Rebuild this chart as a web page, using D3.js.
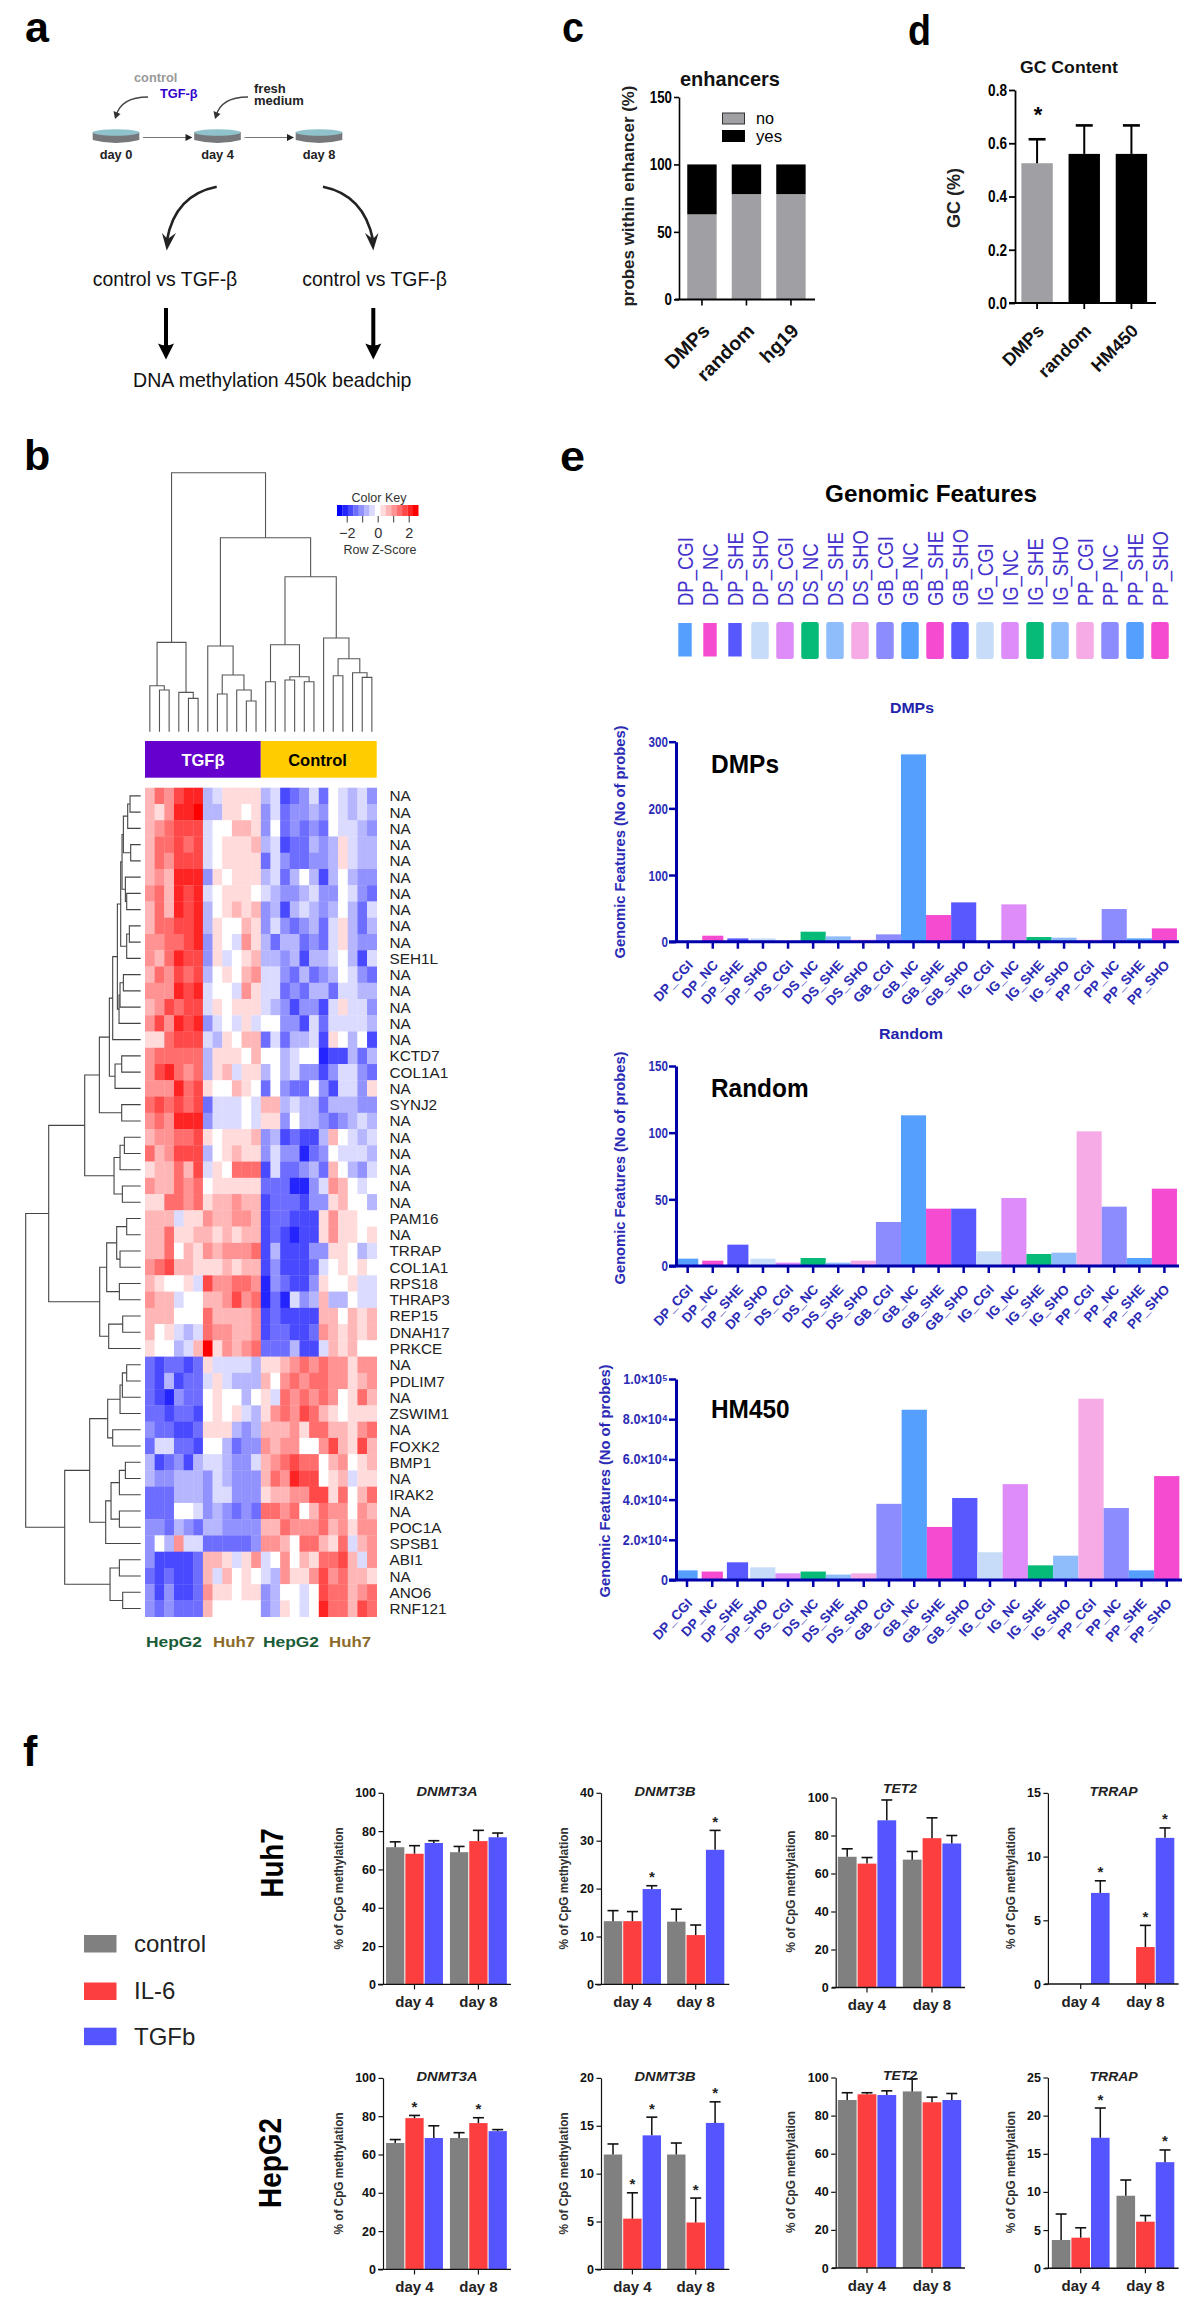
<!DOCTYPE html>
<html>
<head>
<meta charset="utf-8">
<title>Figure</title>
<script src="https://cdnjs.cloudflare.com/ajax/libs/d3/7.8.5/d3.min.js"></script>
<style>
html,body{margin:0;padding:0;background:#fff}
svg{display:block;font-family:"Liberation Sans",Arial,sans-serif}
</style>
</head>
<body>
<svg id="fig" width="1200" height="2321" viewBox="0 0 1200 2321"></svg>
<script>
// ---------- panel a ----------
const dayLabels = ["day 0", "day 4", "day 8"];
// ---------- panel c ----------
const enhancerCategories = ["DMPs", "random", "hg19"];
const enhancerNo = [63, 78, 78];
const enhancerYes = [37, 22, 22];
const enhancerTicks = [0, 50, 100, 150];
// ---------- panel d ----------
const gcCategories = ["DMPs", "random", "HM450"];
const gcValues = [0.525, 0.56, 0.56];
const gcErrorTop = [0.615, 0.667, 0.667];
const gcTicks = [0, 0.2, 0.4, 0.6, 0.8];
// ---------- panel b ----------
const geneLabels = ["NA","NA","NA","NA","NA","NA","NA","NA","NA","NA","SEH1L","NA","NA","NA","NA","NA","KCTD7","COL1A1","NA","SYNJ2","NA","NA","NA","NA","NA","NA","PAM16","NA","TRRAP","COL1A1","RPS18","THRAP3","REP15","DNAH17","PRKCE","NA","PDLIM7","NA","ZSWIM1","NA","FOXK2","BMP1","NA","IRAK2","NA","POC1A","SPSB1","ABI1","NA","ANO6","RNF121"];
// one string per row, one hex digit per column: 0 = deepest blue, 7 = white, e = deepest red
const heatRows = [
"9bacdd568888562346376564",
"98adde558878463445476565",
"9abccc677998473434376654",
"9bbcbc678889562335458655",
"9baccc678888364334458655",
"9a9ddd487888563575257544",
"ab9dcd678887654456447643",
"9b9dcd578989452565457536",
"9bbccd587798464345368535",
"aabbcd4876a8535534368544",
"a9bdcc486789554525567526",
"9bacbc57879a664353457643",
"aaadcd6776a8663435536655",
"9acbcc687888654244268664",
"acadcd467686774426366665",
"88bccc658799363556287572",
"abbbbb588879775677122535",
"acdbab589688575644246643",
"aaadbc877987374337426648",
"bcbcbc366676995655355544",
"abaddd466676884755434565",
"9aabbc878889452322597656",
"b9accc578988464413476665",
"899b9c687bbb263345397546",
"a99bab7888883331146a9767",
"88bbab899a99233324489775",
"999688a99aa92332228a8877",
"99b8899898992321228a8878",
"99b798a9aaab252224488756",
"abc998889899242223678787",
"987786caabba143224877866",
"a9967799acab131645955766",
"999777b9999a232222997989",
"978656baa99a233223a98989",
"877569e8a9ab333522698977",
"323323866665889ababaa8aa",
"32523368655597ababbaa89a",
"32143378775786bababa78b9",
"3323327878658abacb987888",
"433223888545999a8bb998ab",
"366332775344a9aa77ac98c9",
"5234256654469abcbb79a789",
"5445554654449badcc789688",
"333555466444899aacc8b79b",
"333776454343bbab79baa7a9",
"44354355444499baaab9a8aa",
"475a66333334aa97bb98b69a",
"42222399868a67a798bbc96a",
"32322396978765a88acab998",
"424223a88788457767cbb9ab",
"434333977777458767dbb9cb"
];
// dendrograms: [merge height, left child, right child], 0 marks a leaf
const colDendrogram = [777,
  [268, [138, 0, [125, 0, 0]], [118, 0, [100, 0, 0]]],
  [582,
    [257, 0, [170, [113, 0, 0], [125, 0, [92, 0, 0]]]],
    [465,
      [261, [150, 0, 0], [165, [155, 0, 0], [150, 0, 0]]],
      [281, 0, [219, [168, 0, 0], [177, 0, [163, 0, 0]]]]
    ]
  ]
];
const rowDendrogram = [345,
  [276,
    [168,
      [124,
        [94,
          [84,
            [70,
              [60,
                [56,
                  [52, [39, [32, 0, 0], 0], [30, 0, 0]],
                  [46, 0, [42, 0, 0]]
                ],
                [42, [34, 0, 0], 0]
              ],
              [65, [62, [52, 0, 0], 0], 0]
            ],
            0
          ],
          [77, [57, 0, 0], 0]
        ],
        [57, 0, 0]
      ],
      [80, [62, [49, 0, 0], 0], [55, 0, 0]]
    ],
    [123,
      [102, [72, [42, 0, 0], [62, 0, 0]], [64, 0, 0]],
      [96, [54, 0, 0], 0]
    ]
  ],
  [228,
    [153,
      [99, [62, [55, [42, 0, 0], 0], 0], [84, 0, 0]],
      [105, [89, [64, [46, 0, 0], 0], [64, 0, 0]], 0]
    ],
    [92, [64, 0, 0], [54, 0, 0]]
  ]
];
const keyTicks = [-2, -1, 0, 1, 2];
// ---------- panel e ----------
const featureNames = ["DP_CGI","DP_NC","DP_SHE","DP_SHO","DS_CGI","DS_NC","DS_SHE","DS_SHO","GB_CGI","GB_NC","GB_SHE","GB_SHO","IG_CGI","IG_NC","IG_SHE","IG_SHO","PP_CGI","PP_NC","PP_SHE","PP_SHO"];
const featureColors = ["#559fff","#f44bd0","#5858ff","#c6dcf9","#de8cf7","#06bb77","#8fbcfa","#f6abe6","#8c8cff","#559fff","#f44bd0","#5858ff","#c6dcf9","#de8cf7","#06bb77","#8fbcfa","#f6abe6","#8c8cff","#559fff","#f44bd0"];
const dmpCounts = [0,9,5,5,0,15,8,3,11,281,40,59,0,56,7,6,3,49,5,20];
const randomCounts = [5.5,4,16,5.5,2.5,6,2.5,4,33,113,43,43,11,51,9,10,101,44.5,6,58];
const hm450Counts = [4800,4200,8800,6300,3300,4200,2700,3300,37900,84700,26400,40800,13800,47700,7300,12100,90200,35800,4800,51700];
const dmpTicks = [0,100,200,300];
const randomTicks = [0,50,100,150];
const hm450Ticks = [0,20000,40000,60000,80000,100000];
const hm450TickLabels = ["0","2.0×10⁴","4.0×10⁴","6.0×10⁴","8.0×10⁴","1.0×10⁵"];
// ---------- panel f ----------
const treatments = ["control","IL-6","TGFb"];
const treatmentColors = ["#808080","#fd3e3e","#5555ff"];
const days = ["day 4","day 8"];
const huh7Dnmt3a = [71.6,68.2,73.8,69,74.8,76.8];
const huh7Dnmt3aTop = [74.4,72.4,75,72,80.4,79];
const huh7Dnmt3b = [13.2,13.2,19.9,13.1,10.3,28.1];
const huh7Dnmt3bTop = [15.4,15.2,20.6,15.7,12.4,32.15];
const huh7Tet2 = [68.8,65.2,88,67.3,78.6,75.8];
const huh7Tet2Top = [73,68.4,98.7,71.6,89.3,80];
const huh7Trrap = [0,0,7.15,0,2.9,11.47];
const huh7TrrapTop = [0,0,8.1,0,4.6,12.25];
const hepg2Dnmt3a = [66,79,68.6,68.6,76.4,72.2];
const hepg2Dnmt3aTop = [67.8,80.4,75,71.4,79.2,73];
const hepg2Dnmt3b = [12,5.3,14,12,4.9,15.3];
const hepg2Dnmt3bTop = [13.1,8,15.9,13.2,7.45,17.5];
const hepg2Tet2 = [88.2,91.2,90.8,92.7,87,88.2];
const hepg2Tet2Top = [92,92,93,99.3,89.7,91.6];
const hepg2Trrap = [3.7,4,17.1,9.5,6.1,13.9];
const hepg2TrrapTop = [7.1,5.3,21,11.56,6.9,15.5];
const huh7Stars = {DNMT3A:[],DNMT3B:[2,5],TET2:[],TRRAP:[2,4,5]};
const hepg2Stars = {DNMT3A:[1,4],DNMT3B:[1,2,4,5],TET2:[],TRRAP:[2,5]};
const pctTicks = [0,20,40,60,80,100];
const dnmt3bHuhTicks = [0,10,20,30,40];
const dnmt3bHepTicks = [0,5,10,15,20];
const trrapHuhTicks = [0,5,10,15];
const trrapHepTicks = [0,5,10,15,20,25];

// ---------- helpers ----------
const svg = d3.select("#fig");
function fit(sel, len){ sel.attr("textLength", len).attr("lengthAdjust","spacingAndGlyphs"); return sel; }
function squeeze(sel, k){
  sel.each(function(){
    const t = this.getComputedTextLength();
    d3.select(this).attr("textLength", t*k).attr("lengthAdjust","spacingAndGlyphs");
  });
  return sel;
}
function text(g, x, y, s, o={}){
  const t = g.append("text").attr("x",x).attr("y",y).text(s)
    .attr("font-size",o.size||12).attr("fill",o.fill||"#000")
    .attr("font-weight",o.weight||"normal")
    .attr("font-style",o.style||"normal")
    .attr("text-anchor",o.anchor||"start");
  if(o.len) fit(t,o.len);
  return t;
}
function vtext(g, x, y, s, o={}){
  const t = text(g, 0, 0, s, Object.assign({anchor:"middle"},o));
  t.attr("transform",`translate(${x},${y}) rotate(-90)`);
  return t;
}
function styleAxis(sel, color, width, fontSize, weight){
  sel.selectAll(".domain").attr("stroke",color).attr("stroke-width",width);
  sel.selectAll(".tick line").attr("stroke",color).attr("stroke-width",width);
  sel.selectAll(".tick text").attr("fill",color).attr("font-size",fontSize).attr("font-weight",weight).attr("font-family",null);
}

// ---------- panel letters ----------
const L = svg.append("g");
text(L,25,42,"a",{size:43,weight:"bold"});
fit(text(L,562,42,"c",{size:43,weight:"bold"}),22);
fit(text(L,908,45,"d",{size:43,weight:"bold"}),23);
text(L,24,470,"b",{size:43,weight:"bold"});
fit(text(L,560,471,"e",{size:43,weight:"bold"}),25);
text(L,23,1766,"f",{size:43,weight:"bold"});

// ---------- panel a ----------
(function(){
  const g = svg.append("g");
  const x = d3.scalePoint().domain(dayLabels).range([116,319]);
  dayLabels.forEach(d=>{
    const cx = x(d);
    g.append("path").attr("d",`M${cx-23.3},132V140Q${cx},146 ${cx+23.3},140V132Z`).attr("fill","#77787c");
    g.append("ellipse").attr("cx",cx).attr("cy",132.5).attr("rx",23.3).attr("ry",3.2).attr("fill","#8fc2ca");
    text(g,cx,159,d,{size:12.8,weight:"bold",anchor:"middle",fill:"#222"});
  });
  d3.pairs(dayLabels).forEach(([a,b])=>{
    const x1=x(a)+27, x2=x(b)-25;
    g.append("line").attr("x1",x1).attr("x2",x2-4).attr("y1",137.5).attr("y2",137.5).attr("stroke","#777").attr("stroke-width",1);
    g.append("path").attr("d",`M${x2},137.5l-7,-3.5v7Z`).attr("fill","#222");
  });
  text(g,134,82,"control",{size:12.8,weight:"bold",fill:"#999"});
  text(g,160,97.7,"TGF-β",{size:12.8,weight:"bold",fill:"#3300cc"});
  text(g,254,92.7,"fresh",{size:13,weight:"bold",fill:"#222"});
  text(g,254,104.5,"medium",{size:13,weight:"bold",fill:"#222"});
  // small curved arrows
  [[148,97,115,119],[248,97,215,119]].forEach(([a,b,c,e])=>{
    g.append("path").attr("d",`M${a},${b}Q${c+6},${b} ${c+1},${e-3}`).attr("fill","none").attr("stroke","#444").attr("stroke-width",1.3);
    g.append("path").attr("d",`M${c},${e}l-1.5,-8l7,3Z`).attr("fill","#333");
  });
  // big curved arrows
  g.append("path").attr("d","M216.7,186.7Q175,195 167,240").attr("fill","none").attr("stroke","#222").attr("stroke-width",2.6);
  g.append("path").attr("d","M166.7,250.5L162,233L167.5,239L176,233Z").attr("fill","#222");
  g.append("path").attr("d","M323,186.7Q364,195 373,240").attr("fill","none").attr("stroke","#222").attr("stroke-width",2.6);
  g.append("path").attr("d","M373.3,250.5L365,233L373,239L378.5,233Z").attr("fill","#222");
  text(g,92.7,286,"control vs TGF-β",{size:21,len:144.6,fill:"#111"});
  text(g,302.3,286,"control vs TGF-β",{size:21,len:144.6,fill:"#111"});
  [166,373.3].forEach(cx=>{
    g.append("line").attr("x1",cx).attr("x2",cx).attr("y1",308).attr("y2",348).attr("stroke","#000").attr("stroke-width",4);
    g.append("path").attr("d",`M${cx},359.5l-8,-16q8,4 16,0Z`).attr("fill","#000");
  });
  text(g,133,387.3,"DNA methylation 450k beadchip",{size:21,len:278.5,fill:"#111"});
})();

// ---------- panel c ----------
(function(){
  const g = svg.append("g");
  const x = d3.scaleBand().domain(enhancerCategories).range([679.7,813.2]);
  const y = d3.scaleLinear().domain([0,150]).range([299.3,97]);
  const data = enhancerCategories.map((c,i)=>({c,no:enhancerNo[i],yes:enhancerYes[i]}));
  const stacked = d3.stack().keys(["no","yes"])(data);
  const col = {no:"#a0a0a4",yes:"#000"};
  stacked.forEach(s=>{
    g.selectAll(null).data(s).enter().append("rect")
      .attr("x",d=>x(d.data.c)+x.bandwidth()/2-14.7)
      .attr("width",29.4)
      .attr("y",d=>y(d[1])).attr("height",d=>y(d[0])-y(d[1]))
      .attr("fill",col[s.key]);
  });
  const ya = g.append("g").attr("transform","translate(679,0)")
    .call(d3.axisLeft(y).tickValues(enhancerTicks).tickSize(5).tickSizeOuter(0).tickPadding(2));
  styleAxis(ya,"#000",1.6,17,"bold");
  squeeze(ya.selectAll(".tick text"),0.78);
  const xa = g.append("g").attr("transform","translate(0,299.5)")
    .call(d3.axisBottom(x).tickSize(6).tickSizeOuter(0).tickFormat(""));
  xa.select(".domain").remove();
  xa.selectAll(".tick line").attr("stroke","#000").attr("stroke-width",1.6);
  g.append("line").attr("x1",675).attr("x2",815).attr("y1",299.5).attr("y2",299.5).attr("stroke","#000").attr("stroke-width",1.8);
  enhancerCategories.forEach(c=>{
    text(g,0,0,c,{size:19.5,weight:"bold",anchor:"end",fill:"#111"})
      .attr("transform",`translate(${x(c)+x.bandwidth()/2+9},332) rotate(-45)`);
  });
  text(g,730,86,"enhancers",{size:21,weight:"bold",anchor:"middle",len:100,fill:"#111"});
  vtext(g,634,196,"probes within enhancer (%)",{size:16,weight:"bold",len:221,fill:"#222"});
  g.append("rect").attr("x",722.5).attr("y",113).attr("width",22).attr("height",11).attr("fill","#a0a0a4").attr("stroke","#333").attr("stroke-width",1);
  g.append("rect").attr("x",722).attr("y",130).attr("width",23).attr("height",12).attr("fill","#000");
  fit(text(g,756,124,"no",{size:16}),18);
  fit(text(g,756,141.5,"yes",{size:16}),26);
})();

// ---------- panel d ----------
(function(){
  const g = svg.append("g");
  const x = d3.scaleBand().domain(gcCategories).range([1013.5,1155]);
  const y = d3.scaleLinear().domain([0,0.8]).range([303,90]);
  const fills = ["#a0a0a4","#000","#000"];
  gcCategories.forEach((c,i)=>{
    const cx = x(c)+x.bandwidth()/2;
    g.append("rect").attr("x",cx-15.7).attr("width",31.4).attr("y",y(gcValues[i])).attr("height",y(0)-y(gcValues[i])).attr("fill",fills[i]);
    g.append("line").attr("x1",cx).attr("x2",cx).attr("y1",y(gcValues[i])).attr("y2",y(gcErrorTop[i])).attr("stroke","#000").attr("stroke-width",2);
    g.append("line").attr("x1",cx-8.5).attr("x2",cx+8.5).attr("y1",y(gcErrorTop[i])).attr("y2",y(gcErrorTop[i])).attr("stroke","#000").attr("stroke-width",2.6);
  });
  const ya = g.append("g").attr("transform","translate(1015,0)")
    .call(d3.axisLeft(y).tickValues(gcTicks).tickFormat(d3.format(".1f")).tickSize(6).tickSizeOuter(0).tickPadding(2));
  styleAxis(ya,"#000",1.8,17,"bold");
  squeeze(ya.selectAll(".tick text"),0.8);
  const xa = g.append("g").attr("transform","translate(0,303)")
    .call(d3.axisBottom(x).tickSize(6).tickSizeOuter(0).tickFormat(""));
  xa.select(".domain").remove();
  xa.selectAll(".tick line").attr("stroke","#000").attr("stroke-width",1.8);
  g.append("line").attr("x1",1009).attr("x2",1156).attr("y1",303).attr("y2",303).attr("stroke","#000").attr("stroke-width",1.8);
  gcCategories.forEach(c=>{
    text(g,0,0,c,{size:18,weight:"bold",anchor:"end",fill:"#111"})
      .attr("transform",`translate(${x(c)+x.bandwidth()/2+8},332) rotate(-45)`);
  });
  text(g,1038,122,"*",{size:22,weight:"bold",anchor:"middle"});
  text(g,1069,73,"GC Content",{size:17,weight:"bold",anchor:"middle",len:98,fill:"#111"});
  vtext(g,960,198,"GC (%)",{size:18,weight:"bold",len:60,fill:"#222"});
})();

// ---------- panel b ----------
(function(){
  const g = svg.append("g");
  const nCols = heatRows[0].length;
  const cols = d3.range(nCols), rows = d3.range(heatRows.length);
  const x = d3.scaleBand().domain(cols).range([145,376.7]);
  const y = d3.scaleBand().domain(rows).range([787.7,1616.7]);
  const color = d3.scaleLinear().domain([0,7,14]).range(["#0000ff","#ffffff","#ff0000"]);
  const cells = [];
  heatRows.forEach((r,i)=>cols.forEach(j=>cells.push({i,j,v:parseInt(r[j],16)})));
  g.selectAll(null).data(cells).enter().append("rect")
    .attr("x",d=>x(d.j)).attr("y",d=>y(d.i))
    .attr("width",x.bandwidth()+0.3).attr("height",y.bandwidth()+0.3)
    .attr("fill",d=>color(d.v));
  g.selectAll(null).data(geneLabels).enter().append("text")
    .attr("x",389.5).attr("y",(d,i)=>y(i)+y.bandwidth()/2+5.5)
    .attr("font-size",15.3).attr("fill","#222").text(d=>d);
  // dendrograms
  function layout(node, counter, pos){
    if(!Array.isArray(node)){ const p = pos(counter.n++); return {p,h:0,segs:[]}; }
    const a = layout(node[1],counter,pos), b = layout(node[2],counter,pos);
    return {p:(a.p+b.p)/2,h:node[0],segs:a.segs.concat(b.segs,[{a,b,h:node[0]}])};
  }
  const colTree = layout(colDendrogram,{n:0},i=>x(i)+x.bandwidth()/2);
  const hTop = d3.scaleLinear().domain([0,777]).range([731.7,472.7]);
  const topG = g.append("g");
  topG.selectAll(null).data(colTree.segs).enter().append("path")
    .attr("d",s=>`M${s.a.p},${hTop(s.a.h)}V${hTop(s.h)}H${s.b.p}V${hTop(s.b.h)}`)
    .attr("fill","none").attr("stroke","#555").attr("stroke-width",1.1);
  const rowTree = layout(rowDendrogram,{n:0},i=>y(i)+y.bandwidth()/2);
  const hLeft = d3.scaleLinear().domain([0,345]).range([140.7,25.7]);
  g.append("g").selectAll(null).data(rowTree.segs).enter().append("path")
    .attr("d",s=>`M${hLeft(s.a.h)},${s.a.p}H${hLeft(s.h)}V${s.b.p}H${hLeft(s.b.h)}`)
    .attr("fill","none").attr("stroke","#444").attr("stroke-width",1.1);
  // side colour bars
  g.append("rect").attr("x",145).attr("y",741).attr("width",115.8).attr("height",36.7).attr("fill","#6600cc");
  g.append("rect").attr("x",260.8).attr("y",741).attr("width",115.9).attr("height",36.7).attr("fill","#ffcc00");
  text(g,203,766,"TGFβ",{size:16.5,weight:"bold",anchor:"middle",fill:"#fff"});
  text(g,317.5,766,"Control",{size:16.5,weight:"bold",anchor:"middle",fill:"#000"});
  [["HepG2",146,56,"#1a5c38"],["Huh7",213,42,"#8c6a2a"],["HepG2",263,56,"#1a5c38"],["Huh7",329,42,"#8c6a2a"]].forEach(([s,xx,w,c])=>{
    text(g,xx,1647,s,{size:15.5,weight:"bold",len:w,fill:c});
  });
  // colour key
  const kx = d3.scaleLinear().domain([-2,2]).range([346.7,408.7]);
  const levels = d3.range(15);
  const z = d3.scaleLinear().domain([0,14]).range([-2.45,2.45]);
  g.selectAll(null).data(levels).enter().append("rect")
    .attr("x",d=>kx(z(d)-0.177)).attr("width",kx(0.36)-kx(0))
    .attr("y",505).attr("height",11).attr("fill",d=>color(d));
  const ka = g.append("g").attr("transform","translate(0,516)")
    .call(d3.axisBottom(kx).tickValues(keyTicks).tickSize(6.5).tickSizeOuter(0).tickPadding(5)
      .tickFormat(d=>d%2===0?d3.format("d")(d):""));
  ka.select(".domain").remove();
  ka.selectAll(".tick line").attr("stroke","#222").attr("stroke-width",0.9);
  ka.selectAll(".tick text").attr("font-size",14.5).attr("fill","#333").attr("font-family",null);
  text(g,379,502,"Color Key",{size:12.5,anchor:"middle",fill:"#333"});
  text(g,380,554,"Row Z-Score",{size:12.5,anchor:"middle",fill:"#333"});
})();

// ---------- panel e ----------
const eBlue = "#2b2bb5";
(function(){
  const g = svg.append("g");
  text(g,931,502,"Genomic Features",{size:24,weight:"bold",anchor:"middle",len:212});
  const lx = d3.scalePoint().domain(featureNames).range([685,1160]);
  featureNames.forEach((f,i)=>{
    const cx = lx(f);
    const t = text(g,0,0,f,{size:22,fill:"#4433cc"});
    t.attr("transform",`translate(${cx+8},606) rotate(-90)`);
    squeeze(t,0.84);
    const w = i<3 ? 13.4 : 17.5;
    g.append("rect").attr("x",cx-w/2).attr("width",w).attr("y",i<3?623:622).attr("height",i<3?33.5:37).attr("rx",i<3?0:2.5).attr("fill",featureColors[i]);
  });
  function chart(cfg){
    const cg = svg.append("g");
    const x = d3.scaleBand().domain(featureNames).range([cfg.first-cfg.step/2,cfg.first+cfg.step*19.5]);
    const y = d3.scaleLinear().domain([0,cfg.max]).range([cfg.y0,cfg.yTop]);
    cg.selectAll(null).data(cfg.values).enter().append("rect")
      .attr("x",(d,i)=>x(featureNames[i])+(i<3?2:0))
      .attr("width",(d,i)=>i<3?x.bandwidth()-4:x.bandwidth())
      .attr("y",d=>y(d)).attr("height",d=>y(0)-y(d))
      .attr("fill",(d,i)=>featureColors[i]);
    const ya = cg.append("g").attr("transform","translate(676,0)")
      .call(d3.axisLeft(y).tickValues(cfg.ticks).tickSize(7).tickSizeOuter(0).tickPadding(1)
        .tickFormat(cfg.tickFormat||d3.format("d")));
    ya.selectAll(".domain").attr("stroke","#0000aa").attr("stroke-width",3);
    ya.selectAll(".tick line").attr("stroke","#0000aa").attr("stroke-width",2.5);
    ya.selectAll(".tick text").attr("fill",eBlue).attr("font-size",cfg.tickSize||15.5).attr("font-weight","bold").attr("font-family",null);
    squeeze(ya.selectAll(".tick text"),cfg.tickK||0.75);
    const xa = cg.append("g").attr("transform",`translate(0,${cfg.y0})`)
      .call(d3.axisBottom(x).tickSize(7).tickSizeOuter(0).tickFormat(""));
    xa.select(".domain").remove();
    xa.selectAll(".tick line").attr("stroke","#0000aa").attr("stroke-width",2.5);
    cg.append("line").attr("x1",669).attr("x2",cfg.xEnd).attr("y1",cfg.y0).attr("y2",cfg.y0).attr("stroke","#0000aa").attr("stroke-width",3);
    featureNames.forEach(f=>{
      text(cg,0,0,f,{size:13.5,weight:"bold",anchor:"end",fill:eBlue})
        .attr("transform",`translate(${x(f)+x.bandwidth()/2+6},${cfg.y0+24}) rotate(-47)`);
    });
    if(cfg.title) text(cg,cfg.titleX,cfg.titleY,cfg.title,{size:15.5,weight:"bold",anchor:"middle",fill:"#2222aa",len:cfg.titleLen});
    text(cg,711,cfg.nameY,cfg.name,{size:25,weight:"bold",len:cfg.nameLen});
    vtext(cg,cfg.labelX,cfg.labelY,"Genomic Features (No of probes)",{size:14.5,weight:"bold",fill:eBlue,len:233});
  }
  chart({values:dmpCounts,max:300,ticks:dmpTicks,y0:941.7,yTop:741.7,first:687.7,step:25.09,xEnd:1179,
    title:"DMPs",titleX:912,titleY:713,titleLen:44,name:"DMPs",nameY:773,nameLen:68,labelX:625,labelY:842});
  chart({values:randomCounts,max:150,ticks:randomTicks,y0:1266,yTop:1066,first:687.7,step:25.09,xEnd:1179,
    title:"Random",titleX:911,titleY:1039,titleLen:64,name:"Random",nameY:1097,nameLen:97.6,labelX:625,labelY:1168});
  chart({values:hm450Counts,max:100000,ticks:hm450Ticks,y0:1580,yTop:1379,first:687,step:25.25,xEnd:1182,
    tickFormat:d=>hm450TickLabels[hm450Ticks.indexOf(d)],tickSize:14,tickK:0.9,
    name:"HM450",nameY:1418,nameLen:78.6,labelX:610,labelY:1481});
})();

// ---------- panel f ----------
(function(){
  const g = svg.append("g");
  treatments.forEach((t,i)=>{
    const sy=[1935,1982.5,2027.7][i], by=[1952,1998.5,2044.5][i];
    g.append("rect").attr("x",84).attr("y",sy).attr("width",32.5).attr("height",17.5).attr("fill",treatmentColors[i]);
    text(g,134,by,t,{size:24,fill:"#222"});
  });
  vtext(g,283,1863,"Huh7",{size:31,weight:"bold",len:69});
  vtext(g,281,2163,"HepG2",{size:31,weight:"bold",len:90});

  const columns = {
    DNMT3A:{axisX:383,x0:378,x1:511,ticks:[414.5,478.4],pitch:19.3,titleX:447,labelX:343,tl:61},
    DNMT3B:{axisX:601,x0:595,x1:729.3,ticks:[632.4,695.7],pitch:19.4,titleX:665,labelX:568,tl:61},
    TET2:{axisX:835.7,x0:832,x1:965,ticks:[867,932],pitch:19.8,titleX:900,labelX:795,tl:34},
    TRRAP:{axisX:1047.9,x0:1044.6,x1:1178.6,ticks:[1080.7,1145.4],pitch:19.6,titleX:1113.6,labelX:1015,tl:48}
  };
  function small(gene, vals, tops, stars, ticks, max, y0, yTop, titleY){
    const c = columns[gene], cg = svg.append("g");
    const step = c.ticks[1]-c.ticks[0];
    const gx = d3.scaleBand().domain(days).range([c.ticks[0]-step/2,c.ticks[1]+step/2]);
    const bx = d3.scaleBand().domain(treatments).range([-1.5*c.pitch,1.5*c.pitch]);
    const y = d3.scaleLinear().domain([0,max]).range([y0,yTop]);
    vals.forEach((v,i)=>{
      const day = days[Math.floor(i/3)], tr = treatments[i%3];
      const cx = gx(day)+gx.bandwidth()/2+bx(tr)+bx.bandwidth()/2;
      const w = c.pitch-1;
      if(v>0) cg.append("rect").attr("x",cx-w/2).attr("width",w).attr("y",y(v)).attr("height",y(0)-y(v)).attr("fill",treatmentColors[i%3]);
      if(tops[i]>v){
        cg.append("line").attr("x1",cx).attr("x2",cx).attr("y1",y(v)).attr("y2",y(tops[i])).attr("stroke","#111").attr("stroke-width",1.5);
        cg.append("line").attr("x1",cx-5.5).attr("x2",cx+5.5).attr("y1",y(tops[i])).attr("y2",y(tops[i])).attr("stroke","#111").attr("stroke-width",1.6);
      }
      if(stars.includes(i)) text(cg,cx,y(tops[i])-3.5,"*",{size:15,weight:"bold",anchor:"middle",fill:"#222"});
    });
    const ya = cg.append("g").attr("transform",`translate(${c.axisX},0)`)
      .call(d3.axisLeft(y).tickValues(ticks).tickSize(4.5).tickSizeOuter(0).tickPadding(2.5).tickFormat(d3.format("d")));
    styleAxis(ya,"#111",1.2,12.5,"bold");
    const xa = cg.append("g").attr("transform",`translate(0,${y0})`)
      .call(d3.axisBottom(gx).tickSize(5).tickSizeOuter(0).tickPadding(7));
    xa.select(".domain").remove();
    xa.selectAll(".tick line").attr("stroke","#111").attr("stroke-width",1.2);
    xa.selectAll(".tick text").attr("fill","#222").attr("font-size",15).attr("font-weight","bold").attr("font-family",null);
    cg.append("line").attr("x1",c.x0).attr("x2",c.x1).attr("y1",y0).attr("y2",y0).attr("stroke","#111").attr("stroke-width",1.4);
    text(cg,c.titleX,titleY,gene,{size:13.5,weight:"bold",style:"italic",anchor:"middle",len:c.tl,fill:"#222"});
    vtext(cg,c.labelX,y0-96,"% of CpG methylation",{size:12,weight:"bold",len:122,fill:"#333"});
  }
  small("DNMT3A",huh7Dnmt3a,huh7Dnmt3aTop,huh7Stars.DNMT3A,pctTicks,100,1984.4,1792.8,1796);
  small("DNMT3B",huh7Dnmt3b,huh7Dnmt3bTop,huh7Stars.DNMT3B,dnmt3bHuhTicks,40,1984.4,1792.8,1796);
  small("TET2",huh7Tet2,huh7Tet2Top,huh7Stars.TET2,pctTicks,100,1987.5,1797.5,1793);
  small("TRRAP",huh7Trrap,huh7TrrapTop,huh7Stars.TRRAP,trrapHuhTicks,15,1984,1792.9,1796);
  small("DNMT3A",hepg2Dnmt3a,hepg2Dnmt3aTop,hepg2Stars.DNMT3A,pctTicks,100,2269.4,2077.9,2081);
  small("DNMT3B",hepg2Dnmt3b,hepg2Dnmt3bTop,hepg2Stars.DNMT3B,dnmt3bHepTicks,20,2269.4,2077.9,2081);
  small("TET2",hepg2Tet2,hepg2Tet2Top,hepg2Stars.TET2,pctTicks,100,2268,2077.5,2080);
  small("TRRAP",hepg2Trrap,hepg2TrrapTop,hepg2Stars.TRRAP,trrapHepTicks,25,2268.2,2077.5,2081);
})();
</script>
</body>
</html>
